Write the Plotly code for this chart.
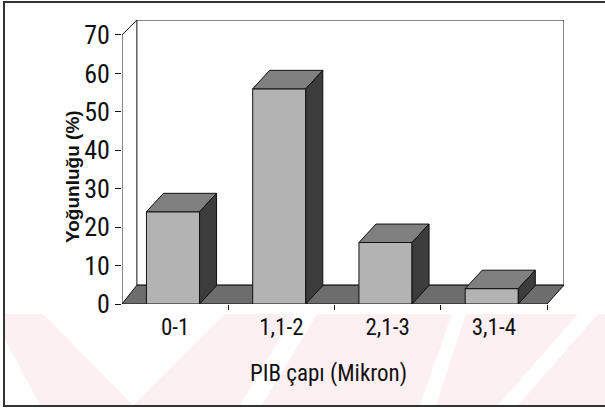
import plotly.graph_objects as go

# ---- data ----
categories = ["0-1", "1,1-2", "2,1-3", "3,1-4"]
values = [24, 56, 16, 4]
y_ticks = [0, 10, 20, 30, 40, 50, 60, 70]
x_title = "PIB çapı (Mikron)"
y_title = "Yoğunluğu (%)"

# ---- geometry / style ----
W, H = 605, 410
ML, MR, MT, MB = 122, 41, 20, 106
X0, X1 = -0.5, 3.66
Y0, Y1 = 0, 73.9
PW, PH = W - ML - MR, H - MT - MB


def px(xp):  # pixel -> paper x
    return (xp - ML) / PW


def py(yp):  # pixel -> paper y
    return (H - MB - yp) / PH


WDX, WDY_B = 0.14, 4.9               # wall depth
BDX, BDY = 0.16, 4.8                 # bar depth
BW, BOFF = 0.5, -0.27                # bar width, offset
FRONT = "#b3b3b3"
TOP = "#808080"
SIDE = "#3c3c3c"
FLOOR = "#6d6d6d"
EDGE = "#111111"
PINK = "#fdf0f2"
TXT = "#111111"
NARROW = "Roboto Condensed, Liberation Sans Narrow, Arial Narrow, sans-serif"

x = list(range(len(categories)))

fig = go.Figure()
fig.add_trace(go.Bar(
    x=x, y=values, width=BW, offset=BOFF,
    marker=dict(color=FRONT, line=dict(color=EDGE, width=1)),
    hoverinfo="skip", showlegend=False,
))

shapes = []

# watermark-like pale pink band (scan artefact)
band_top, band_bot = 314, 405
shapes.append(dict(type="rect", xref="paper", yref="paper", layer="below",
                   x0=px(5), x1=px(605), y0=py(band_bot), y1=py(band_top),
                   fillcolor=PINK, line=dict(width=0)))
white_polys = [
    [(5, 340), (5, 405), (40, 405)],
    [(43, 314), (225, 314), (133, 405)],
    [(240, 405), (262, 405), (317, 314), (295, 314)],
    [(420, 405), (436, 405), (466, 314), (452, 314)],
    [(498, 405), (518, 405), (598, 314), (578, 314)],
]
for poly in white_polys:
    path = "M " + " L ".join(f"{px(a)},{py(b)}" for a, b in poly) + " Z"
    shapes.append(dict(type="path", xref="paper", yref="paper", layer="below",
                       path=path, fillcolor="white", line=dict(width=0)))

# back wall
shapes.append(dict(type="rect", xref="x", yref="y", layer="below",
                   x0=X0 + WDX, x1=X1, y0=WDY_B, y1=Y1,
                   fillcolor="white", line=dict(color=EDGE, width=1)))
# left wall edges
shapes.append(dict(type="line", xref="x", yref="y", layer="below",
                   x0=X0, y0=70, x1=X0 + WDX, y1=Y1, line=dict(color=EDGE, width=1)))
shapes.append(dict(type="line", xref="x", yref="y", layer="below",
                   x0=X0, y0=0, x1=X0, y1=70, line=dict(color=EDGE, width=1)))
# floor
fl = [(X0, 0), (3.5, 0), (X1, WDY_B), (X0 + WDX, WDY_B)]
shapes.append(dict(type="path", xref="x", yref="y", layer="below",
                   path="M " + " L ".join(f"{a},{b}" for a, b in fl) + " Z",
                   fillcolor=FLOOR, line=dict(color=EDGE, width=1)))

# 3D faces of bars, from values
for i, v in zip(x, values):
    l = i + BOFF
    r = l + BW
    top = [(l, v), (r, v), (r + BDX, v + BDY), (l + BDX, v + BDY)]
    side = [(r, 0), (r, v), (r + BDX, v + BDY), (r + BDX, BDY)]
    for poly, col in ((top, TOP), (side, SIDE)):
        shapes.append(dict(type="path", xref="x", yref="y", layer="above",
                           path="M " + " L ".join(f"{a},{b}" for a, b in poly) + " Z",
                           fillcolor=col, line=dict(color=EDGE, width=1)))

# outer frame (left, top, bottom)
for (a, b, c, d) in [(4, 1, 4, 407), (3, 2, 605, 2), (3, 406, 605, 406)]:
    shapes.append(dict(type="line", xref="paper", yref="paper",
                       x0=px(a), y0=py(b), x1=px(c), y1=py(d),
                       line=dict(color="#333333", width=2)))

fig.update_layout(
    width=W, height=H,
    margin=dict(l=ML, r=MR, t=MT, b=MB),
    paper_bgcolor="white", plot_bgcolor="white",
    shapes=shapes,
    xaxis=dict(range=[X0, X1], tickvals=x, ticktext=categories,
               ticks="", showgrid=False, zeroline=False, showline=False,
               tickfont=dict(family=NARROW, size=23, color=TXT),
               ticklabelstandoff=7,
               minor=dict(tickvals=[0.5, 1.5, 2.5, 3.5], ticks="outside",
                          ticklen=5, tickcolor=EDGE, tickwidth=1)),
    yaxis=dict(range=[Y0, Y1], tickvals=y_ticks, ticks="outside", ticklen=6,
               tickcolor=EDGE, showgrid=False, zeroline=False, showline=False,
               tickfont=dict(family=NARROW, size=26, color=TXT)),
    annotations=[
        dict(text=f"<b>{y_title}</b>", xref="paper", yref="paper",
             x=px(72), y=py(177), textangle=-90, showarrow=False,
             font=dict(family="Liberation Sans, Arial, sans-serif", size=19, color=TXT),
             xanchor="center", yanchor="middle"),
        dict(text=x_title, xref="paper", yref="paper",
             x=px(328), y=py(373), showarrow=False,
             font=dict(family=NARROW, size=23, color=TXT),
             xanchor="center", yanchor="middle"),
    ],
)

fig.write_html("out.html",
               config={"displayModeBar": False},
               post_script="document.body.style.margin='0';document.body.style.overflow='hidden';")
